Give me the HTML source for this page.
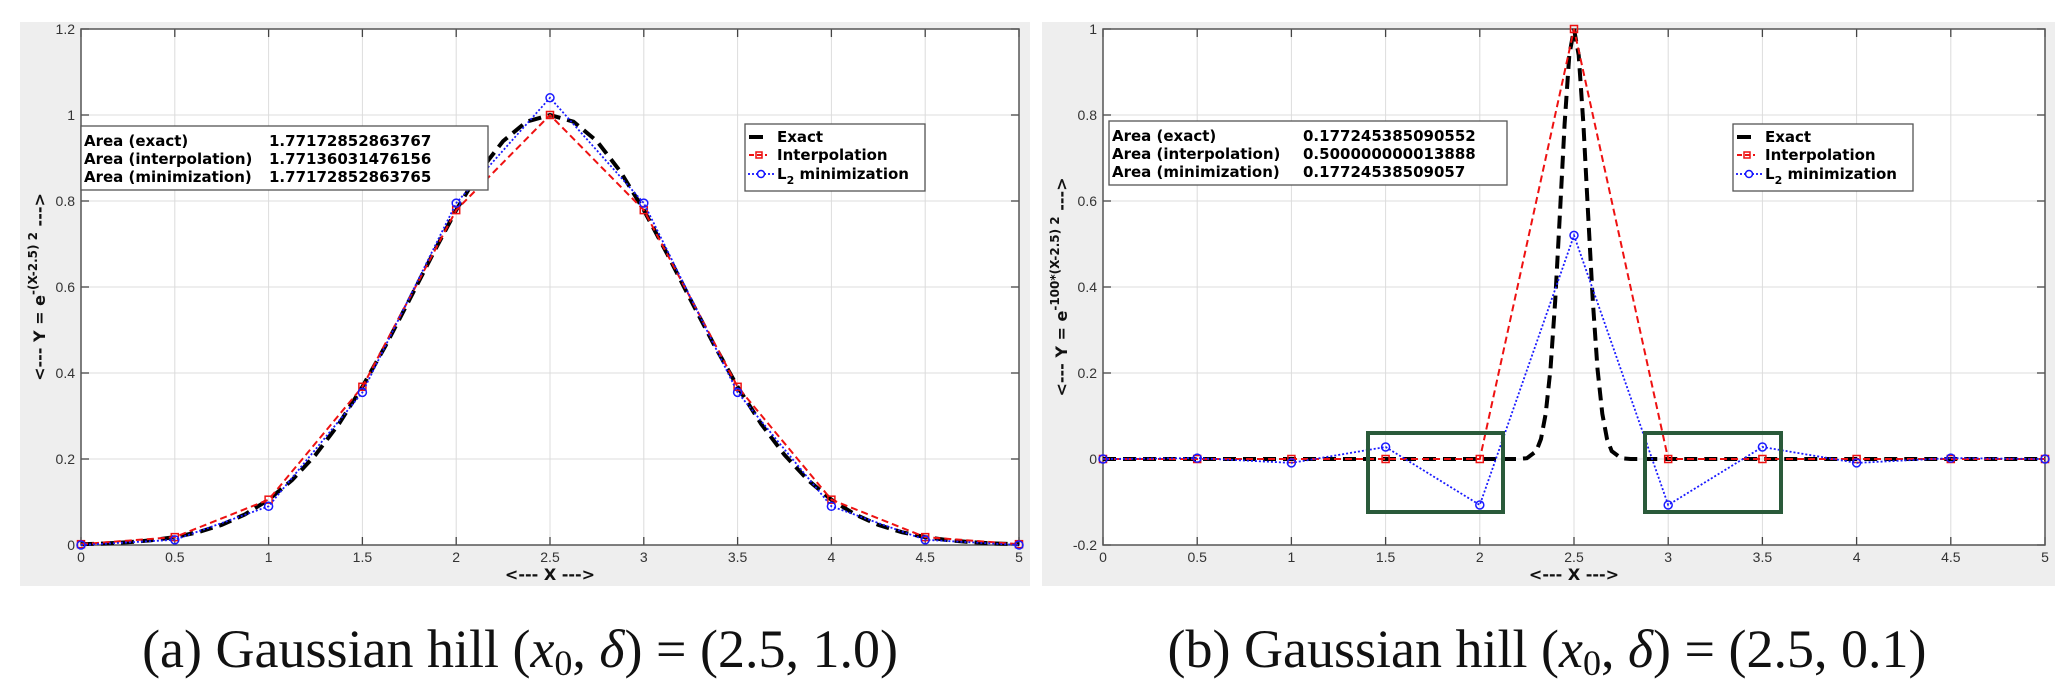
<!DOCTYPE html>
<html><head><meta charset="utf-8">
<style>
body{margin:0;background:#fff;width:2067px;height:694px;overflow:hidden}
svg{display:block}
.tk{font-family:"Liberation Sans Narrow","Liberation Sans",sans-serif;font-size:14px;fill:#333}
.bx{font-family:"DejaVu Sans",sans-serif;font-weight:bold;font-size:15px;fill:#000}
.ax{font-family:"DejaVu Sans",sans-serif;font-weight:bold;font-size:16px;fill:#111}
.cap{font-family:"Liberation Serif",serif;font-size:54px;fill:#111}
</style></head><body>
<svg id="fig" width="2067" height="694" xmlns="http://www.w3.org/2000/svg">
<rect x="20" y="22" width="1010" height="564" fill="#eeeeee"/>
<rect x="1042" y="22" width="1013" height="564" fill="#eeeeee"/>
<g id="pa"></g>
<g id="pb"></g>
<text class="cap" x="520" y="667" text-anchor="middle">(a) Gaussian hill (<tspan font-style="italic">x</tspan><tspan font-size="36" dy="8">0</tspan><tspan dy="-8">, </tspan><tspan font-style="italic">δ</tspan>) = (2.5, 1.0)</text>
<text class="cap" x="1547" y="667" text-anchor="middle">(b) Gaussian hill (<tspan font-style="italic">x</tspan><tspan font-size="36" dy="8">0</tspan><tspan dy="-8">, </tspan><tspan font-style="italic">δ</tspan>) = (2.5, 0.1)</text>
</svg>
<script>
const xTicks=[0,0.5,1,1.5,2,2.5,3,3.5,4,4.5,5];
const xTickLabels=["0","0.5","1","1.5","2","2.5","3","3.5","4","4.5","5"];
const yTicksA=[0,0.2,0.4,0.6,0.8,1,1.2];
const yTickLabelsA=["0","0.2","0.4","0.6","0.8","1","1.2"];
const yTicksB=[-0.2,0,0.2,0.4,0.6,0.8,1];
const yTickLabelsB=["-0.2","0","0.2","0.4","0.6","0.8","1"];
const nodeX=[0,0.5,1,1.5,2,2.5,3,3.5,4,4.5,5];
const exactXA=[0,0.125,0.25,0.375,0.5,0.625,0.75,0.875,1,1.125,1.25,1.375,1.5,1.625,1.75,1.875,2,2.125,2.25,2.375,2.5,2.625,2.75,2.875,3,3.125,3.25,3.375,3.5,3.625,3.75,3.875,4,4.125,4.25,4.375,4.5,4.625,4.75,4.875,5];
const exactYA=[0.0019,0.0035,0.0063,0.0109,0.0183,0.0297,0.0468,0.0714,0.1054,0.1510,0.2096,0.2821,0.3679,0.4650,0.5698,0.6766,0.7788,0.8688,0.9394,0.9845,1,0.9845,0.9394,0.8688,0.7788,0.6766,0.5698,0.4650,0.3679,0.2821,0.2096,0.1510,0.1054,0.0714,0.0468,0.0297,0.0183,0.0109,0.0063,0.0035,0.0019];
const interpYA=[0.0019,0.0183,0.1054,0.3679,0.7788,1,0.7788,0.3679,0.1054,0.0183,0.0019];
const l2YA=[0.0,0.012,0.09,0.355,0.795,1.04,0.795,0.355,0.09,0.012,0.0];
const exactXB=[0,2.2,2.25,2.3,2.325,2.35,2.375,2.4,2.425,2.45,2.475,2.5,2.525,2.55,2.575,2.6,2.625,2.65,2.675,2.7,2.75,2.8,5];
const exactYB=[0,0.0001,0.0019,0.0183,0.0468,0.1054,0.2096,0.3679,0.5698,0.7788,0.9394,1,0.9394,0.7788,0.5698,0.3679,0.2096,0.1054,0.0468,0.0183,0.0019,0.0001,0];
const interpYB=[0,0,0,0,0,1,0,0,0,0,0];
const l2YB=[0,0.002,-0.009,0.028,-0.107,0.52,-0.107,0.028,-0.009,0.002,0];
const areaLabels=["Area (exact)","Area (interpolation)","Area (minimization)"];
const areaValsA=["1.77172852863767","1.77136031476156","1.77172852863765"];
const areaValsB=["0.177245385090552","0.500000000013888","0.17724538509057"];

const NS="http://www.w3.org/2000/svg";
function mk(p,tag,at){const e=document.createElementNS(NS,tag);for(const k in at)e.setAttribute(k,at[k]);p.appendChild(e);return e;}

function panel(g,o){
  const L=o.L,R=o.R,T=29,B=545;
  const sx=v=>L+(v-0)/(5-0)*(R-L);
  const sy=v=>B-(v-o.ymin)/(o.ymax-o.ymin)*(B-T);
  let r=mk(g,'rect',{x:L,y:T,width:R-L,height:B-T,fill:'#fff'});
  
  
  xTicks.forEach((v,i)=>{
    let l=mk(g,'line',{x1:sx(v),x2:sx(v),y1:T,y2:B,stroke:'#dcdcdc','stroke-width':1});
    
    
    mk(g,'line',{x1:sx(v),x2:sx(v),y1:B,y2:B-8,stroke:'#444','stroke-width':1.3});
    mk(g,'line',{x1:sx(v),x2:sx(v),y1:T,y2:T+8,stroke:'#444','stroke-width':1.3});
    let t=mk(g,'text',{x:sx(v),y:B+17,'text-anchor':'middle',class:'tk'});t.textContent=xTickLabels[i];
    
    
  });
  o.yt.forEach((v,i)=>{
    let l=mk(g,'line',{x1:L,x2:R,y1:sy(v),y2:sy(v),stroke:'#dcdcdc','stroke-width':1});
    
    
    mk(g,'line',{x1:L,x2:L+8,y1:sy(v),y2:sy(v),stroke:'#444','stroke-width':1.3});
    mk(g,'line',{x1:R,x2:R-8,y1:sy(v),y2:sy(v),stroke:'#444','stroke-width':1.3});
    let t=mk(g,'text',{x:L-6,y:sy(v)+5,'text-anchor':'end',class:'tk'});t.textContent=o.ytl[i];
    
    
  });
  let f=mk(g,'rect',{x:L,y:T,width:R-L,height:B-T,fill:'none',stroke:'#555','stroke-width':1.5});
  
  
  const pts=(xs,ys)=>xs.map((x,i)=>sx(x).toFixed(1)+','+sy(ys[i]).toFixed(1)).join(' ');
  let e=mk(g,'polyline',{points:pts(o.ex,o.ey),fill:'none',stroke:'#000','stroke-width':4,'stroke-dasharray':'13,7'});
  
  
  let ip=mk(g,'polyline',{points:pts(nodeX,o.iy),fill:'none',stroke:'#ee1111','stroke-width':2,'stroke-dasharray':'7,4'});
  
  
  nodeX.forEach((x,i)=>{
    let m=mk(g,'rect',{x:sx(x)-3.5,y:sy(o.iy[i])-3.5,width:7,height:7,fill:'none',stroke:'#ee1111','stroke-width':1.5});
    
    
  });
  let lp=mk(g,'polyline',{points:pts(nodeX,o.ly),fill:'none',stroke:'#1a1aff','stroke-width':1.8,'stroke-dasharray':'2,2'});
  
  
  nodeX.forEach((x,i)=>{
    let m=mk(g,'circle',{cx:sx(x),cy:sy(o.ly[i]),r:4,fill:'none',stroke:'#1a1aff','stroke-width':1.5});
    
    
  });
  let bg=mk(g,'g',{});
  
  
  mk(bg,'rect',{x:o.bx,y:o.by,width:o.bw,height:64,fill:'#fff',stroke:'#555','stroke-width':1.3});
  areaLabels.forEach((s,i)=>{
    let t=mk(bg,'text',{x:o.bx+3,y:o.by+20+i*18,class:'bx'});t.textContent=s;
    let v=mk(bg,'text',{x:o.vx,y:o.by+20+i*18,class:'bx'});v.textContent=o.av[i];
  });
  let lg=mk(g,'g',{});
  
  
  mk(lg,'rect',{x:o.lx,y:124,width:180,height:67,fill:'#fff',stroke:'#555','stroke-width':1.3});
  const ly=[142,160,179];
  mk(lg,'line',{x1:o.lx+4,x2:o.lx+18,y1:ly[0]-5,y2:ly[0]-5,stroke:'#000','stroke-width':4});
  mk(lg,'line',{x1:o.lx+4,x2:o.lx+22,y1:ly[1]-5,y2:ly[1]-5,stroke:'#e11','stroke-width':2,'stroke-dasharray':'5,3'});
  mk(lg,'rect',{x:o.lx+11,y:ly[1]-8,width:6,height:6,fill:'none',stroke:'#e11','stroke-width':1.5});
  mk(lg,'line',{x1:o.lx+3,x2:o.lx+29,y1:ly[2]-5,y2:ly[2]-5,stroke:'#11f','stroke-width':1.8,'stroke-dasharray':'2,2'});
  mk(lg,'circle',{cx:o.lx+16,cy:ly[2]-5,r:3.5,fill:'#fff',stroke:'#11f','stroke-width':1.5});
  let t1=mk(lg,'text',{x:o.lx+32,y:ly[0],class:'bx'});t1.textContent='Exact';
  let t2=mk(lg,'text',{x:o.lx+32,y:ly[1],class:'bx'});t2.textContent='Interpolation';
  let t3=mk(lg,'text',{x:o.lx+32,y:ly[2],class:'bx'});t3.innerHTML='L<tspan font-size="11" dy="5">2</tspan><tspan dy="-5"> minimization</tspan>';
  let xt=mk(g,'text',{x:(L+R)/2,y:580,'text-anchor':'middle',class:'ax'});xt.textContent='<--- X --->';
  
  
  let yt=mk(g,'text',{x:0,y:0,'text-anchor':'middle',class:'ax',transform:'translate('+(L-36)+','+((T+B)/2)+') rotate(-90)'});
  yt.innerHTML='<--- Y = e<tspan font-size="12" dy="-8">'+o.exp+'</tspan><tspan dy="8"> ---></tspan>';
  
  
  return {sx,sy};
}
panel(document.getElementById('pa'),{L:81,R:1019,ymin:0,ymax:1.2,yt:yTicksA,ytl:yTickLabelsA,ex:exactXA,ey:exactYA,iy:interpYA,ly:l2YA,bx:81,by:126,bw:407,vx:269,av:areaValsA,lx:745,exp:'-(X-2.5)  2'});
panel(document.getElementById('pb'),{L:1103,R:2045,ymin:-0.2,ymax:1,yt:yTicksB,ytl:yTickLabelsB,ex:exactXB,ey:exactYB,iy:interpYB,ly:l2YB,bx:1109,by:121,bw:398,vx:1303,av:areaValsB,lx:1733,exp:'-100*(X-2.5)  2'});
const pb=document.getElementById('pb');
let b1=mk(pb,'rect',{x:1368,y:433,width:135,height:79,fill:'none',stroke:'#2a5a3a','stroke-width':4});


let b2=mk(pb,'rect',{x:1645,y:433,width:136,height:79,fill:'none',stroke:'#2a5a3a','stroke-width':4});


</script>
</body></html>
